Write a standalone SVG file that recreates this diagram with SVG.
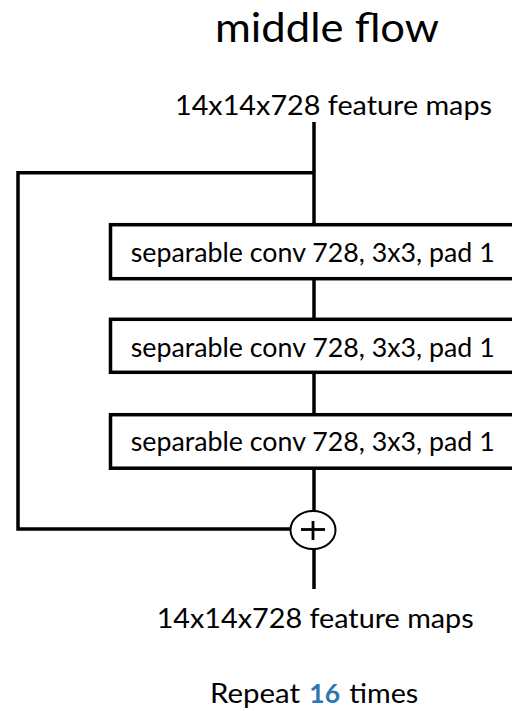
<svg xmlns="http://www.w3.org/2000/svg" width="512" height="711" viewBox="0 0 512 711">
<style>
  .ln{fill:none;stroke:#000;stroke-width:3.5;stroke-linejoin:miter;stroke-linecap:butt}
  .box{fill:#fff;stroke:#000;stroke-width:3.5}
  .t{font-family:Lato,"Liberation Sans",sans-serif;fill:#000}
  .bt{font-size:26.5px}
  .fm{font-size:27px}
</style>
<rect width="512" height="711" fill="#fff"/>
<text id="title" class="t" x="215" y="42" font-size="40" textLength="224" lengthAdjust="spacingAndGlyphs">middle flow</text>
<text id="input-label" class="t fm" x="175" y="115" textLength="317" lengthAdjust="spacingAndGlyphs">14x14x728 feature maps</text>
<g id="connectors">
  <line class="ln" x1="314" y1="122" x2="314" y2="224.7"/>
  <polyline class="ln" points="314,172.7 18,172.7 18,529 291,529"/>
  <line class="ln" x1="314" y1="279" x2="314" y2="319"/>
  <line class="ln" x1="314" y1="373" x2="314" y2="414.5"/>
  <line class="ln" x1="314" y1="468" x2="314" y2="511"/>
  <line class="ln" x1="314" y1="549" x2="314" y2="589"/>
</g>
<g id="conv1">
  <rect class="box" x="110.5" y="224.7" width="420" height="54"/>
  <text class="t bt" x="130.7" y="261.7" textLength="364" lengthAdjust="spacingAndGlyphs">separable conv 728, 3x3, pad 1</text>
</g>
<g id="conv2">
  <rect class="box" x="110.5" y="319.3" width="420" height="53"/>
  <text class="t bt" x="130.7" y="356.7" textLength="364" lengthAdjust="spacingAndGlyphs">separable conv 728, 3x3, pad 1</text>
</g>
<g id="conv3">
  <rect class="box" x="110.5" y="414.7" width="420" height="53.5"/>
  <text class="t bt" x="130.7" y="450.7" textLength="364" lengthAdjust="spacingAndGlyphs">separable conv 728, 3x3, pad 1</text>
</g>
<g id="add">
  <ellipse cx="313" cy="530" rx="22.5" ry="19" fill="#fff" stroke="#000" stroke-width="2"/>
  <line x1="301" y1="529.5" x2="325" y2="529.5" stroke="#000" stroke-width="2.8"/>
  <line x1="313" y1="521" x2="313" y2="540" stroke="#000" stroke-width="2.8"/>
</g>
<text id="output-label" class="t fm" x="156.7" y="628.3" textLength="317" lengthAdjust="spacingAndGlyphs">14x14x728 feature maps</text>
<text id="repeat" class="t fm" y="703.3"><tspan x="210" textLength="90" lengthAdjust="spacingAndGlyphs">Repeat</tspan> <tspan x="309.3" font-weight="bold" fill="#2E75B6" textLength="30.7" lengthAdjust="spacingAndGlyphs">16</tspan> <tspan x="349.3" textLength="69" lengthAdjust="spacingAndGlyphs">times</tspan></text>
</svg>
